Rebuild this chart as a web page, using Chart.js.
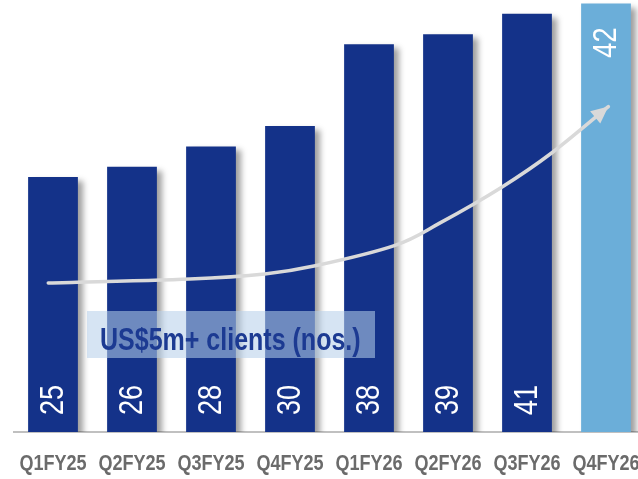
<!DOCTYPE html>
<html>
<head>
<meta charset="utf-8">
<title>US$5m+ clients</title>
<script src="https://cdn.jsdelivr.net/npm/chart.js@4/dist/chart.umd.min.js"></script>
<style>
  html, body { margin: 0; padding: 0; background: #fff; overflow: hidden; }
  #wrap { width: 650px; height: 479px; }
</style>
</head>
<body>
<div id="wrap"><canvas id="chart" width="650" height="479"></canvas></div>
<script>
  'use strict';

  var quarters = ['Q1FY25', 'Q2FY25', 'Q3FY25', 'Q4FY25', 'Q1FY26', 'Q2FY26', 'Q3FY26', 'Q4FY26'];
  var clients = [25, 26, 28, 30, 38, 39, 41, 42];

  // Growth arrow path, in (category index, value) units.
  var trendX = [-0.06, 1.73, 2.68, 3.32, 4.33, 4.90, 5.68, 6.32, 7.03];
  var trendY = [14.6, 15.0, 15.5, 16.3, 18.3, 20.5, 24.0, 27.4, 31.9];

  var caption = 'US$5m+ clients (nos.)';

  var NAVY = '#143289';
  var SKY = '#6baed9';
  var SANS = '"Liberation Sans", Arial, sans-serif';
  var SQUEEZE = 0.82; // narrow face made from the regular one

  var lastIdx = clients.length - 1;
  var barColors = clients.map(function (v, i) { return i === lastIdx ? SKY : NAVY; });

  // Draws text horizontally squeezed so it reads like a narrow face.
  function narrowText(ctx, text, x, y, align) {
    ctx.save();
    ctx.translate(x, y);
    ctx.scale(SQUEEZE, 1);
    ctx.textAlign = align;
    ctx.fillText(text, 0, 0);
    ctx.restore();
  }

  // Soft drop shadow behind the bars.
  var barShadow = {
    id: 'barShadow',
    beforeDatasetsDraw: function (chart) {
      var ctx = chart.ctx;
      ctx.save();
      ctx.shadowColor = 'rgba(0, 0, 0, 0.38)';
      ctx.shadowBlur = 6;
      ctx.shadowOffsetX = 5;
      ctx.shadowOffsetY = 4;
    },
    afterDatasetsDraw: function (chart) {
      chart.ctx.restore();
    }
  };

  // Curved growth arrow, caption box, value labels and category labels.
  var overlays = {
    id: 'overlays',
    afterDatasetsDraw: function (chart) {
      var ctx = chart.ctx;
      var xs = chart.scales.x;
      var ys = chart.scales.y;
      var step = xs.getPixelForValue(1) - xs.getPixelForValue(0);
      var x0 = xs.getPixelForValue(0);

      var pts = trendX.map(function (t, i) {
        return { x: x0 + t * step, y: ys.getPixelForValue(trendY[i]) };
      });

      ctx.save();
      ctx.strokeStyle = '#d9d9d9';
      ctx.fillStyle = '#d9d9d9';
      ctx.lineWidth = 3.5;
      ctx.lineCap = 'round';
      ctx.beginPath();
      ctx.moveTo(pts[0].x, pts[0].y);
      for (var i = 0; i < pts.length - 1; i++) {
        var p0 = pts[i - 1] || pts[i];
        var p1 = pts[i];
        var p2 = pts[i + 1];
        var p3 = pts[i + 2] || p2;
        ctx.bezierCurveTo(
          p1.x + (p2.x - p0.x) / 6, p1.y + (p2.y - p0.y) / 6,
          p2.x - (p3.x - p1.x) / 6, p2.y - (p3.y - p1.y) / 6,
          p2.x, p2.y
        );
      }
      ctx.stroke();

      // arrow head
      var tip = pts[pts.length - 1];
      var prev = pts[pts.length - 2];
      var ang = Math.atan2(tip.y - prev.y, tip.x - prev.x);
      var len = 17, half = 8;
      ctx.beginPath();
      ctx.moveTo(tip.x, tip.y);
      ctx.lineTo(tip.x - len * Math.cos(ang) + half * Math.sin(ang), tip.y - len * Math.sin(ang) - half * Math.cos(ang));
      ctx.lineTo(tip.x - len * Math.cos(ang) - half * Math.sin(ang), tip.y - len * Math.sin(ang) + half * Math.cos(ang));
      ctx.closePath();
      ctx.fill();
      ctx.restore();

      // caption box
      ctx.save();
      ctx.fillStyle = 'rgba(181, 207, 234, 0.56)';
      ctx.fillRect(87, 311, 288, 47);
      ctx.fillStyle = '#1c3a92';
      ctx.font = 'bold 30.5px ' + SANS;
      ctx.textBaseline = 'alphabetic';
      narrowText(ctx, caption, 100, 350, 'left');
      ctx.restore();

      // rotated value labels
      var meta = chart.getDatasetMeta(0);
      ctx.save();
      ctx.fillStyle = '#ffffff';
      ctx.font = '33px ' + SANS;
      ctx.textBaseline = 'middle';
      meta.data.forEach(function (bar, idx) {
        ctx.save();
        if (idx === lastIdx) {
          ctx.translate(bar.x, bar.y + 24);
          ctx.rotate(-Math.PI / 2);
          narrowText(ctx, String(clients[idx]), 0, 1, 'right');
        } else {
          ctx.translate(bar.x, bar.base - 17);
          ctx.rotate(-Math.PI / 2);
          narrowText(ctx, String(clients[idx]), 0, 1, 'left');
        }
        ctx.restore();
      });
      ctx.restore();

      // category labels under the axis
      ctx.save();
      ctx.fillStyle = '#6b6b6b';
      ctx.font = 'bold 22px ' + SANS;
      ctx.textBaseline = 'alphabetic';
      quarters.forEach(function (q, idx) {
        narrowText(ctx, q, xs.getPixelForTick(idx), 470, 'center');
      });
      ctx.restore();
    }
  };

  var ctx = document.getElementById('chart').getContext('2d');
  new Chart(ctx, {
    type: 'bar',
    data: {
      labels: quarters,
      datasets: [{
        data: clients,
        backgroundColor: barColors,
        borderWidth: 0,
        categoryPercentage: 1,
        barPercentage: 0.63
      }]
    },
    options: {
      responsive: false,
      animation: false,
      devicePixelRatio: 1,
      layout: { padding: { left: 13.5, right: 4.5, top: 0, bottom: 0 } },
      plugins: {
        legend: { display: false },
        tooltip: { enabled: false }
      },
      scales: {
        x: {
          grid: { display: false, drawTicks: false },
          border: { display: true, color: '#c0c0c0', width: 2 },
          ticks: { display: false },
          afterFit: function (scale) { scale.height = 47; }
        },
        y: {
          display: false,
          min: 0,
          max: 42.35
        }
      }
    },
    plugins: [barShadow, overlays]
  });
</script>
</body>
</html>
